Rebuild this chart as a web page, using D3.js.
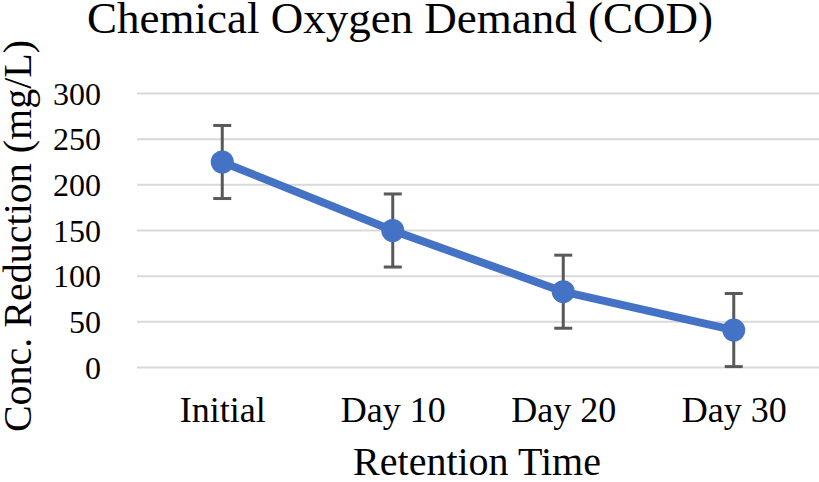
<!DOCTYPE html>
<html>
<head>
<meta charset="utf-8">
<script src="https://cdn.jsdelivr.net/npm/d3@7"></script>
<style>
  body { margin: 0; background: #fff; }
  svg text { font-family: "Liberation Serif", "Times New Roman", serif; fill: #000; }
</style>
</head>
<body>
<svg id="chart"></svg>
<script>
// Chart data
const categories = ["Initial", "Day 10", "Day 20", "Day 30"];
const codValues = [225, 150, 83, 41];
const codErrors = [40, 40, 40, 40];
const yTicks = [0, 50, 100, 150, 200, 250, 300];

// SVG size
const svgWidth = 819;
const svgHeight = 482;

// Plot area
const plot = { left: 137, right: 819, top: 93.5, bottom: 367.5 };
const SERIF = "'Liberation Serif', 'Times New Roman', serif";

const svg = d3
  .select("#chart")
  .attr("width", svgWidth)
  .attr("height", svgHeight);

// Scales
const x = d3
  .scalePoint()
  .domain(categories)
  .range([plot.left, plot.right])
  .padding(0.5);

const y = d3.scaleLinear().domain([0, 300]).range([plot.bottom, plot.top]);

// Gridlines
svg
  .append("g")
  .selectAll("line")
  .data(yTicks)
  .enter()
  .append("line")
  .attr("x1", plot.left)
  .attr("x2", plot.right)
  .attr("y1", (d) => y(d))
  .attr("y2", (d) => y(d))
  .attr("stroke", "#d9d9d9")
  .attr("stroke-width", 2);

// Y axis tick labels
const yAxis = svg
  .append("g")
  .attr("transform", "translate(101,0)")
  .call(d3.axisLeft(y).tickValues(yTicks).tickSize(0).tickPadding(0));
yAxis.select(".domain").remove();
yAxis.attr("font-family", null).attr("font-size", null);
yAxis
  .selectAll("text")
  .style("font-size", "32px")
  .style("font-family", SERIF)
  .attr("dy", "0.33em");

// X axis tick labels
const xAxis = svg
  .append("g")
  .attr("transform", "translate(0,422)")
  .call(d3.axisBottom(x).tickSize(0).tickPadding(0));
xAxis.select(".domain").remove();
xAxis.attr("font-family", null).attr("font-size", null);
xAxis
  .selectAll("text")
  .style("font-size", "36px")
  .style("font-family", SERIF)
  .attr("dy", 0);

// Error bars
const errG = svg
  .append("g")
  .selectAll("g")
  .data(categories)
  .enter()
  .append("g")
  .attr("stroke", "#595959")
  .attr("stroke-width", 3);

errG
  .append("line")
  .attr("x1", (d) => x(d))
  .attr("x2", (d) => x(d))
  .attr("y1", (d, i) => y(codValues[i] + codErrors[i]))
  .attr("y2", (d, i) => y(codValues[i] - codErrors[i]));

[1, -1].forEach((s) => {
  errG
    .append("line")
    .attr("x1", (d) => x(d) - 9)
    .attr("x2", (d) => x(d) + 9)
    .attr("y1", (d, i) => y(codValues[i] + s * codErrors[i]))
    .attr("y2", (d, i) => y(codValues[i] + s * codErrors[i]));
});

// Line
const line = d3
  .line()
  .x((d, i) => x(categories[i]))
  .y((d) => y(d));

svg
  .append("path")
  .datum(codValues)
  .attr("fill", "none")
  .attr("stroke", "#4472c4")
  .attr("stroke-width", 8)
  .attr("stroke-linejoin", "round")
  .attr("d", line);

// Markers
svg
  .append("g")
  .selectAll("circle")
  .data(codValues)
  .enter()
  .append("circle")
  .attr("cx", (d, i) => x(categories[i]))
  .attr("cy", (d) => y(d))
  .attr("r", 11.5)
  .attr("fill", "#4472c4");

// Title
svg
  .append("text")
  .attr("x", 400)
  .attr("y", 33)
  .attr("text-anchor", "middle")
  .style("font-size", "45px")
  .text("Chemical Oxygen Demand (COD)");

// Axis titles
svg
  .append("text")
  .attr("x", 477)
  .attr("y", 475)
  .attr("text-anchor", "middle")
  .style("font-size", "40px")
  .text("Retention Time");

svg
  .append("text")
  .attr("transform", "translate(31,236) rotate(-90)")
  .attr("text-anchor", "middle")
  .style("font-size", "40px")
  .text("Conc. Reduction (mg/L)");
</script>
</body>
</html>
